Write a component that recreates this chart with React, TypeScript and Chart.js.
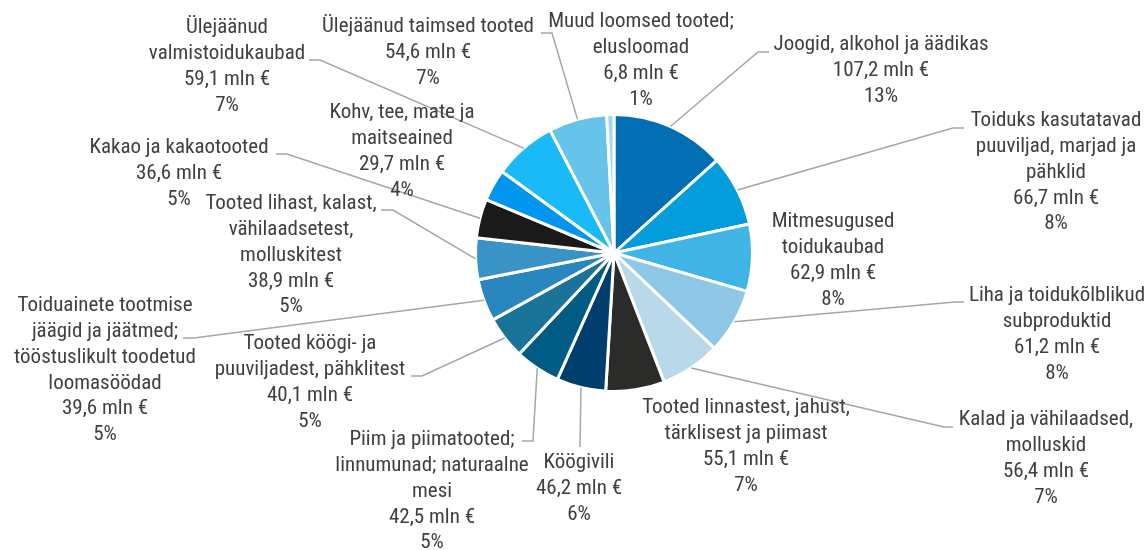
import React, { useEffect, useRef } from "react";
import { Chart, registerables } from "chart.js";

Chart.register(...registerables);

// Category names (already wrapped into lines as in the source)
const categories: string[][] = [
  ["Joogid, alkohol ja äädikas"],
  ["Toiduks kasutatavad", "puuviljad, marjad ja", "pähklid"],
  ["Mitmesugused", "toidukaubad"],
  ["Liha ja toidukõlblikud", "subproduktid"],
  ["Kalad ja vähilaadsed,", "molluskid"],
  ["Tooted linnastest, jahust,", "tärklisest ja piimast"],
  ["Köögivili"],
  ["Piim ja piimatooted;", "linnumunad; naturaalne", "mesi"],
  ["Tooted köögi- ja", "puuviljadest, pähklitest"],
  ["Toiduainete tootmise", "jäägid ja jäätmed;", "tööstuslikult toodetud", "loomasöödad"],
  ["Tooted lihast, kalast,", "vähilaadsetest,", "molluskitest"],
  ["Kakao ja kakaotooted"],
  ["Kohv, tee, mate ja", "maitseained"],
  ["Ülejäänud", "valmistoidukaubad"],
  ["Ülejäänud taimsed tooted"],
  ["Muud loomsed tooted;", "elusloomad"],
];

// Values, mln €
const values: number[] = [
  107.2, 66.7, 62.9, 61.2, 56.4, 55.1, 46.2, 42.5, 40.1, 39.6, 38.9, 36.6, 29.7, 59.1, 54.6, 6.8,
];

const colors: string[] = [
  "#026FB4", "#039DDC", "#40B4E5", "#8FC7E6", "#B9D8EA", "#2B2B2A", "#003F6D", "#005C85",
  "#1A7399", "#2A86BE", "#3A93C6", "#1A1A1A", "#0096F0", "#1AB9F8", "#68C3EA", "#A4D6F0",
];

// Label layout: center x, first-line center y, optional leader (elbow, end)
type LabelLayout = { x: number; y: number; elbow?: [number, number]; end?: [number, number] };
const labelLayout: LabelLayout[] = [
  { x: 881, y: 45, elbow: [758, 52], end: [769, 52] },
  { x: 1056, y: 121, elbow: [953, 128], end: [964, 128] },
  { x: 833, y: 222 },
  { x: 1057, y: 296, elbow: [955, 302], end: [964, 302] },
  { x: 1046, y: 420, elbow: [944, 427], end: [953, 427] },
  { x: 746, y: 408 },
  { x: 579, y: 463, elbow: [580, 447], end: [580, 447] },
  { x: 432, y: 440, elbow: [533, 441], end: [522, 441] },
  { x: 310, y: 344, elbow: [422, 376], end: [411, 376] },
  { x: 105, y: 306, elbow: [194, 338], end: [183, 338] },
  { x: 291, y: 204, elbow: [393, 210], end: [381, 210] },
  { x: 179, y: 148, elbow: [287, 154], end: [276, 154] },
  { x: 402, y: 113 },
  { x: 227, y: 28, elbow: [320, 60], end: [309, 60] },
  { x: 428, y: 27, elbow: [552, 33], end: [541, 33] },
  { x: 641, y: 22 },
];

const FONT = '21px "Roboto Condensed", "Liberation Sans Narrow", "DejaVu Sans Condensed", Roboto, sans-serif';
const LINE_H = 25.8;

const labelPlugin = {
  id: "outerLabels",
  afterDraw(chart: any) {
    const ctx: CanvasRenderingContext2D = chart.ctx;
    const meta = chart.getDatasetMeta(0);
    const data: number[] = chart.data.datasets[0].data;
    const total = data.reduce((a, b) => a + b, 0);
    ctx.save();
    // leader lines
    ctx.strokeStyle = "#A6A6A6";
    ctx.lineWidth = 1.5;
    meta.data.forEach((arc: any, i: number) => {
      const lay = labelLayout[i];
      if (!lay.elbow || !lay.end) return;
      const p = arc.getProps(["x", "y", "startAngle", "endAngle", "outerRadius"], true);
      const mid = (p.startAngle + p.endAngle) / 2;
      const sx = p.x + Math.cos(mid) * p.outerRadius;
      const sy = p.y + Math.sin(mid) * p.outerRadius;
      ctx.beginPath();
      ctx.moveTo(sx, sy);
      ctx.lineTo(lay.elbow[0], lay.elbow[1]);
      ctx.lineTo(lay.end[0], lay.end[1]);
      ctx.stroke();
    });
    // texts
    ctx.fillStyle = "#404040";
    ctx.font = FONT;
    ctx.textAlign = "center";
    ctx.textBaseline = "middle";
    data.forEach((v, i) => {
      const lay = labelLayout[i];
      const lines = [
        ...categories[i],
        v.toFixed(1).replace(".", ",") + " mln €",
        Math.round((v / total) * 100) + "%",
      ];
      lines.forEach((t, k) => ctx.fillText(t, lay.x, lay.y + k * LINE_H));
    });
    ctx.restore();
  },
};

export default function App() {
  const ref = useRef<HTMLCanvasElement | null>(null);
  useEffect(() => {
    if (!ref.current) return;
    const chart = new Chart(ref.current, {
      type: "pie",
      data: {
        labels: categories.map((c) => c.join(" ")),
        datasets: [
          {
            data: values,
            backgroundColor: colors,
            borderColor: "#FFFFFF",
            borderWidth: 3,
          },
        ],
      },
      options: {
        animation: false,
        responsive: true,
        maintainAspectRatio: false,
        layout: { padding: { left: 474, right: 393, top: 113, bottom: 157 } },
        plugins: { legend: { display: false }, tooltip: { enabled: false } },
      },
      plugins: [labelPlugin],
    });
    return () => chart.destroy();
  }, []);
  return (
    <div style={{ position: "fixed", left: 0, top: 0, width: 1147, height: 550, background: "#FFFFFF" }}>
      <canvas ref={ref} />
    </div>
  );
}
